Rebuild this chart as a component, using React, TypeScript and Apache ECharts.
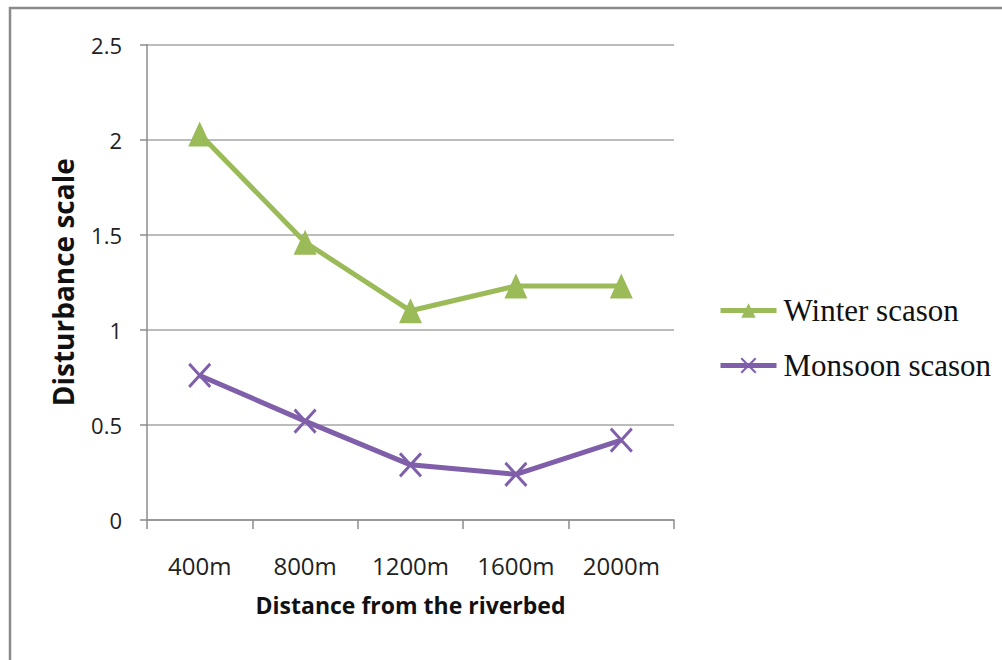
import React, { useEffect, useRef } from "react";
import * as echarts from "echarts";

const categories = ["400m", "800m", "1200m", "1600m", "2000m"];
const winterValues = [2.03, 1.46, 1.1, 1.23, 1.23];
const monsoonValues = [0.76, 0.52, 0.29, 0.24, 0.42];
const seriesNames = ["Winter scason", "Monsoon scason"];
const yAxisTitle = "Disturbance scale";
const xAxisTitle = "Distance from the riverbed";

const GREEN = "#9BBB59";
const PURPLE = "#7F5FAA";
const CROSS = "path://M0,0 L10,10 M10,0 L0,10";

export default function App() {
  const ref = useRef<HTMLDivElement>(null);
  useEffect(() => {
    document.body.style.margin = "0";
    if (!ref.current) return;
    const chart = echarts.init(ref.current, null, { renderer: "svg" });
    chart.setOption({
      animation: false,
      backgroundColor: "#fff",
      graphic: [
        {
          type: "rect",
          shape: { x: 10, y: 8, width: 1010, height: 670 },
          style: { fill: "none", stroke: "#8a8a8a", lineWidth: 2.5 },
          silent: true,
        },
      ],
      grid: { left: 147, top: 44.5, right: 328, bottom: 140 },
      legend: {
        orient: "vertical",
        left: 713,
        top: 290,
        itemWidth: 56,
        itemHeight: 18,
        itemGap: 24,
        data: seriesNames,
        lineStyle: { width: 5 },
        textStyle: {
          fontFamily: "Liberation Serif",
          fontSize: 31,
          color: "#111",
          padding: [0, 0, 0, 2],
        },
      },
      xAxis: {
        type: "category",
        data: categories,
        boundaryGap: true,
        axisLine: { lineStyle: { color: "#8c8c8c", width: 1.5 } },
        axisTick: { show: true, length: 9, alignWithLabel: false, lineStyle: { color: "#8c8c8c", width: 1.5 } },
        axisLabel: { margin: 33, fontFamily: "Open Sans", fontSize: 24, color: "#222" },
        name: xAxisTitle,
        nameLocation: "middle",
        nameGap: 73,
        nameTextStyle: { fontFamily: "Open Sans", fontWeight: "bold", fontSize: 23, color: "#111" },
      },
      yAxis: {
        type: "value",
        min: 0,
        max: 2.5,
        interval: 0.5,
        axisLine: { show: true, lineStyle: { color: "#8c8c8c", width: 1.5 } },
        axisTick: { show: true, length: 7, lineStyle: { color: "#8c8c8c", width: 1.5 } },
        splitLine: { show: true, lineStyle: { color: "#a6a6a6", width: 1.5 } },
        axisLabel: { margin: 25, fontFamily: "Open Sans", fontSize: 22, color: "#222" },
        name: yAxisTitle,
        nameLocation: "middle",
        nameRotate: 90,
        nameGap: 70,
        nameTextStyle: { fontFamily: "Open Sans", fontWeight: "bold", fontSize: 28, color: "#111" },
      },
      series: [
        {
          name: seriesNames[0],
          type: "line",
          data: winterValues,
          symbol: "triangle",
          symbolSize: [23, 25],
          lineStyle: { color: GREEN, width: 5 },
          itemStyle: { color: GREEN },
        },
        {
          name: seriesNames[1],
          type: "line",
          data: monsoonValues,
          symbol: CROSS,
          symbolSize: [21, 23],
          lineStyle: { color: PURPLE, width: 5 },
          itemStyle: { color: PURPLE, borderColor: PURPLE, borderWidth: 3 },
        },
      ],
    });
    return () => chart.dispose();
  }, []);
  return <div ref={ref} style={{ width: 1002, height: 660 }} />;
}
